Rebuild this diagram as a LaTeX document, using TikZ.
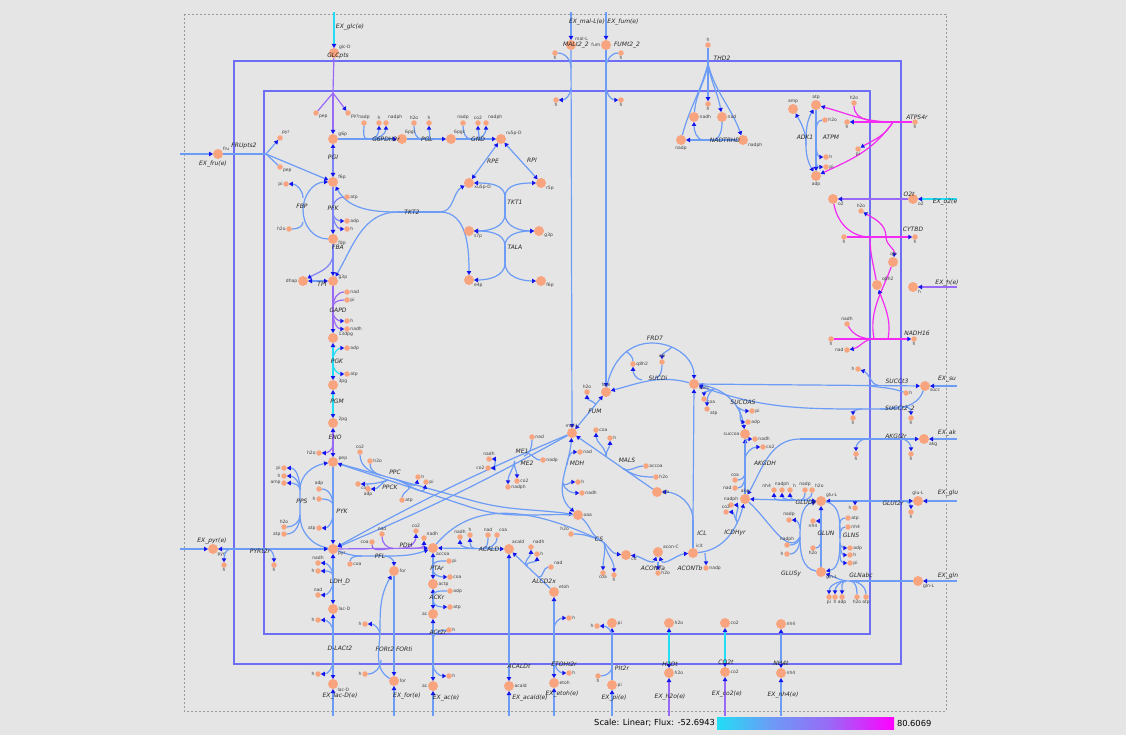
\documentclass[tikz,border=0pt]{standalone}
\usepackage{fontspec}
\setmainfont{DejaVu Sans}
\usetikzlibrary{arrows.meta,calc}
\definecolor{bggrey}{HTML}{E5E5E5}
\definecolor{boxgrey}{HTML}{9A9A9A}
\definecolor{membr}{HTML}{6E6EF4}
\definecolor{fcyan}{HTML}{22DDF5}
\definecolor{fblue}{HTML}{6C9CF6}
\definecolor{fviol}{HTML}{7C84F6}
\definecolor{fpurp}{HTML}{9A68F6}
\definecolor{fmag}{HTML}{F22AF2}
\definecolor{metfill}{HTML}{F8A47F}
\definecolor{tipblue}{HTML}{1414EC}
\pgfdeclarelayer{bg}
\pgfdeclarelayer{lines}
\pgfsetlayers{bg,lines,main}

\begin{document}
\begin{tikzpicture}[x=1pt,y=-1pt,
  every node/.style={inner sep=0pt,outer sep=0pt},
  met/.style={circle,fill=metfill,minimum size=10pt},
  cof/.style={circle,fill=metfill,minimum size=5.5pt},
  mlab/.style={font=\fontsize{4.5}{5}\selectfont,text=black!75,inner sep=0.7pt},
  rlab/.style={font=\fontsize{6}{7}\selectfont\itshape,text=black!85},
  xlab/.style={font=\fontsize{8.3}{10}\selectfont,text=black},
  rxn/.style={line width=1.2pt},
  rb/.style={rxn,draw=fblue},
  rv/.style={rxn,draw=fviol},
  rp/.style={rxn,draw=fpurp},
  rc/.style={rxn,draw=fcyan},
  rm/.style={rxn,draw=fmag},
  onearr/.style={-{Triangle[length=4pt,width=4.4pt,color=tipblue]}},
  twoarr/.style={{Triangle[length=4pt,width=4.4pt,color=tipblue]}-{Triangle[length=4pt,width=4.4pt,color=tipblue]}},
  membrane/.style={draw=membr,line width=2pt}
]
\useasboundingbox (0,0) rectangle (1126,735);

% canvas, cell boundary
\begin{pgfonlayer}{bg}
  \fill[bggrey] (0,0) rectangle (1126,735);
  \draw[boxgrey,line width=0.9pt,dash pattern=on 2pt off 2pt] (184,14) rectangle (946,711);
  \draw[membrane] (234,61) rectangle (901,664);
  \draw[membrane] (264,91) rectangle (870,634);
\end{pgfonlayer}

% main metabolites
\foreach \n/\x/\y/\t/\a in {
  glce/334/53/glc-D/30, frue/218/154/fru/30, g6p/333/139/g6p/20, f6p/333/182/f6p/20,
  fdp/333/239/fdp/-20, dhap/303/281/dhap/180, g3p/333/281/g3p/10, dpg/333/338/13dpg/10,
  pg3/333/385/3pg/10, pg2/333/423/2pg/10, pep/333/462/pep/10, pyr/333/549/pyr/-30,
  pyre/213/549/pyr/-40, lacD/333/609/lac-D/0, lacDe/333/684/lac-D/-40, form/394/571/for/0,
  fore/394/681/for/0, accoa/433/548/accoa/-60, actp/433/584/actp/0, ac/433/614/ac/180,
  ace/433/686/ac/180, acald/509/549/acald/60, acalde/509/686/acald/0, etoh/554/592/etoh/30,
  etohe/554/683/etoh/0, pgl6/402/139/6pgl/60, pgc6/451/139/6pgc/60, ru5p/501/139/ru5p-D/30,
  xu5p/469/183/xu5p-D/-20, r5p/541/183/r5p/-30, s7p/469/231/s7p/-30, gtp/539/231/g3p/-20,
  e4p/469/280/e4p/-30, ftp/541/281/f6p/-20, oaa/578/515/oaa/0, cit/626/555/cit/-20,
  aconC/658/552/acon-C/30, icit/693/553/icit/60, akg/745/499/akg/90, succoa/745/434/succoa/180,
  succ/694/384/succ/-30, fum/606/392/fum/90, malL/572/433/mal-L/90, glx/657/492/glx/0,
  gluL/821/501/glu-L/30, glnL/821/572/gln-L/-30, glue/918/501/glu-L/90, glne/918/581/gln-L/-30,
  akge/924/439/akg/-30, succe/925/386/succ/-30, malLe/571/45/mal-L/45, fume/606/45/fum/180,
  nadh/694/117/nadh/0, nad/722/117/nad/0, nadp/681/140/nadp/-90, nadph/743/140/nadph/-30,
  amp/793/109/amp/90, atp/816/105/atp/90, adp/816/176/adp/-90, o2/833/199/o2/-30,
  o2e/913/199/o2/-30, q8/893/262/q8/90, q8h2/877/285/q8h2/30, he/913/287/h/-30,
  h2oC/669/623/h2o/0, piC/612/623/pi/0, co2C/725/623/co2/0, nh4C/781/624/nh4/0,
  h2oe/669/673/h2o/0, pie/612/685/pi/0, co2e/725/672/co2/0, nh4e/781/673/nh4/0}
  \node[met,label={[mlab]\a:\t}] (\n) at (\x,\y) {};

% cofactors
\foreach \n/\x/\y/\t/\a in {
  gpep/316/113/pep/-30, gpyr/348/113/pyr/-30, fpyr/280/138/pyr/60, fpep/280/167/pep/-30,
  fbppi/286/184/pi/180, fbph2o/289/229/h2o/180, pfkatp/347/197/atp/0, pfkadp/347/221/adp/0,
  pfkh/347/229/h/0, gapnad/347/292/nad/0, gappi/347/300/pi/0, gaph/347/321/h/0,
  gapnadh/347/329/nadh/0, pgkadp/347/348/adp/0, pgkatp/347/374/atp/0, enoh2o/319/453/h2o/180,
  pykadp/319/489/adp/90, pykh/319/499/h/180, pykatp/319/528/atp/180,
  ppspi/284/468/pi/180, ppsh/284/476/h/180, ppsamp/284/483/amp/180, ppsh2o/284/527/h2o/90,
  ppsatp/284/534/atp/180, ppcco2/360/452/co2/90, ppch2o/370/461/h2o/0, ppch/418/477/h/0,
  ppcpi/426/482/pi/0, ppckco2/358/484/co2/-30, ppckadp/368/489/adp/-90, ppckatp/402/500/atp/0,
  pdhnad/382/534/nad/90, pdhcoa/372/542/coa/180, pdhco2/416/531/co2/90, pdhnadh/424/538/nadh/45,
  pflcoa/350/564/coa/0, ldhnadh/318/563/nadh/90, ldhh/318/571/h/180, ldhnad/318/595/nad/90,
  dlach1/318/620/h/180, dlach2/318/674/h/180, pyrh1/224/565/h/-90, pyrh2/274/565/h/-90,
  forh1/365/624/h/180, forh2/365/674/h/180, ptapi/449/561/pi/0, ptacoa/450/577/coa/0,
  ackadp/450/591/adp/0, ackatp/450/607/atp/0, ach1/449/630/h/0, ach2/449/676/h/0,
  acaldnadh/460/537/nadh/90, acaldh/470/535/h/90, acaldnad/488/535/nad/90, acaldcoa/497/535/coa/60,
  alcnadh/531/547/nadh/60, alch/537/554/h/0, alcnad/551/567/nad/30,
  etohh1/569/618/h/0, etohh2/569/673/h/0, pih1/597/626/h/180, pih2/598/676/h/-90,
  g6pnadp/364/123/nadp/90, g6ph/379/123/h/90, g6pnadph/386/123/nadph/60, pglh2o/414/123/h2o/90,
  pglh/429/123/h/90, gndnadp/463/123/nadp/90, gndco2/478/123/co2/90, gndnadph/486/123/nadph/60,
  csh2o/571/534/h2o/120, cscoa/603/573/coa/-90, csh/614/575/h/-90, aconh2o/658/573/h2o/0,
  icdnadp/706/568/nadp/0, icdnadph/731/505/nadph/90, icdco2/726/512/co2/90,
  akgcoa/735/480/coa/90, akgnad/735/488/nad/180, akgnadh/755/439/nadh/0, akgco2/763/447/co2/0,
  sucpi/752/411/pi/0, sucadp/748/422/adp/0, succoa2/704/399/coa/-30, sucatp/707/409/atp/-30,
  sdhq8/662/362/q8/90, sdhq8h2/633/364/q8h2/0, fumh2o/587/392/h2o/90,
  malscoa/596/430/coa/0, malsh/610/438/h/0, malsaccoa/646/466/accoa/0, malsh2o/656/477/h2o/0,
  mdhnad/580/452/nad/0, mdhh/578/482/h/0, mdhnadh/582/493/nadh/0,
  me1nad/532/437/nad/0, me2nadp/543/460/nadp/0, menadh/489/459/nadh/90, meco2/488/468/co2/180,
  me2co2/517/481/co2/0, me2nadph/508/487/nadph/0,
  malth1/555/53/h/-90, malth2/556/100/h/-90, fumth1/621/53/h/-90, fumth2/621/100/h/-90,
  sc3h1/858/369/h/180, sc3h2/906/393/h/0, sc2h1/853/418/h/-90, sc2h2/911/418/h/-90,
  akth1/856/454/h/-90, akth2/911/454/h/-90,
  gdnh4/774/490/nh4/150, gdnadph/782/490/nadph/90, gdh/790/490/h/30, gdnadp/805/490/nadp/90,
  gdh2o/812/490/h2o/30, gluth1/855/508/h/180, gluth2/911/512/h/-90,
  gsnadp/789/520/nadp/90, gsnadph/787/545/nadph/90, gsh/787/554/h/180,
  gnnh4/813/521/nh4/-90, gnh2o/813/548/h2o/-90,
  glnsatp/848/518/atp/0, glnsnh4/848/527/nh4/0, glnsadp/850/548/adp/0, glnsh/850/555/h/0,
  glnspi/850/563/pi/0, gabpi/829/597/pi/-90, gabh/835/597/h/-90, gabadp/842/597/adp/-90,
  gabh2o/857/597/h2o/-90, gabatp/866/597/atp/-90,
  thdh1/708/45/h/90, thdh2/708/104/h/-90, atpmh2o/825/120/h2o/0, atpmh/826/157/h/0,
  atpmpi/826/167/pi/0, atpsh2o/854/103/h2o/90, atpsh/847/122/h/-90, atpspi/858/149/pi/-90,
  hats/915/122/h/-90, cyh2o/861/211/h2o/90, cyh/844/237/h/-90, cyhe/915/237/h/-90,
  nhnadh/847/324/nadh/90, nhh/831/339/h/-90, nhhe/914/339/h/-90, nhnad/847/350/nad/180}
  \node[cof,label={[mlab]\a:\t}] (\n) at (\x,\y) {};

% free ends and branch points
\foreach \n/\x/\y in {
  inGlc/334/12, inFru/180/154, inPyr/180/549, inMal/571/12, inFum/606/12,
  inO2/957/199, inH/957/287, inSucc/957/386, inAkg/957/439, inGlu/957/501, inGln/957/581,
  outLac/333/716, outFor/394/716, outAc/433/716, outAcald/509/716, outEtoh/554/716,
  outPi/612/716, outH2o/669/716, outCo2/725/716, outNh4/781/716,
  glcJ/333/93, fruJ/266/154, fbpJ/303/210, fbaJ/333/256, tk2a/398/212, tk2b/440/212,
  tk1a/505/197, tk1b/505/214, tala/505/246, talb/505/263, ppsA/300/515, ppsB/300/490,
  ppcM/470/500, ppckM/470/507, pflA/362/556, pflB/385/556, forJ/380/630, csJ/600/540,
  icdJ/737/522, iclJ/693/520, sucJ1/737/407, sucJ2/714/389, sdhJ1/655/378, sdhJ2/642/380,
  frdA/652/343, frdB/626/351, frdC/672/347, mdhJ1/567/465, mdhJ2/563/483,
  sc2A/880/409, sc2J1/862/409, aktA/800/439, gsJ/800/537, gsnA/840/538, gsnB/840/543,
  gabA/850/581, gabB/846/581, thdJ/708/64, adkJ/806/145, atsJ/893/122,
  cyJ/870/237, cyJ2/886/237, nhJ/874/339, nhJ2/888/339}
  \coordinate (\n) at (\x,\y);

\begin{pgfonlayer}{lines}
% glycolysis
\draw[rc,onearr] (inGlc) -- (glce);
\draw[rp] (glce) -- (glcJ);
\draw[rp,onearr] (glcJ) -- (g6p);
\draw[rp] (gpep) -- (glcJ);
\draw[rp,onearr] (glcJ) -- (gpyr);
\draw[rb,onearr] (inFru) -- (frue);
\draw[rb] (frue) -- (fruJ);
\draw[rb,onearr] (fruJ) -- (f6p);
\draw[rb] (fpep) -- (fruJ);
\draw[rb,onearr] (fruJ) -- (fpyr);
\draw[rv,twoarr] (g6p) -- (f6p);
\draw[rv,onearr] (f6p) -- (fdp);
\draw[rv] (pfkatp) to[out=180,in=90] ($(f6p)!.45!(fdp)$);
\foreach \c in {pfkadp,pfkh} \draw[rv,onearr] ($(f6p)!.55!(fdp)$) to[out=-90,in=180] (\c);
\draw[rb] (fdp) to[out=180,in=-90] (fbpJ);
\draw[rb,onearr] (fbpJ) to[out=90,in=180] (f6p);
\draw[rb] (fbph2o) to[out=0,in=-90] ($(fbpJ)+(0,12)$);
\draw[rb,onearr] ($(fbpJ)+(0,-12)$) to[out=90,in=0] (fbppi);
\draw[rv] (fdp) -- (fbaJ);
\draw[rv,onearr] (fbaJ) -- (g3p);
\draw[rv,onearr] (fbaJ) to[out=-100,in=30] (dhap);
\draw[rb,twoarr] (dhap) -- (g3p);
\draw[rp,onearr] (g3p) -- (dpg);
\foreach \c in {gapnad,gappi} \draw[rp] (\c) to[out=180,in=90] ($(g3p)!.45!(dpg)$);
\foreach \c in {gaph,gapnadh} \draw[rp,onearr] ($(g3p)!.55!(dpg)$) to[out=-90,in=180] (\c);
\draw[rc,twoarr] (dpg) -- (pg3);
\draw[rc,onearr] ($(dpg)!.45!(pg3)$) to[out=90,in=180] (pgkadp);
\draw[rc,onearr] ($(dpg)!.55!(pg3)$) to[out=-90,in=180] (pgkatp);
\draw[rc,twoarr] (pg3) -- (pg2);
\draw[rp,twoarr] (pg2) -- (pep);
\draw[rp,onearr] ($(pg2)!.55!(pep)$) to[out=-90,in=0] (enoh2o);
\draw[rb,onearr] (pep) -- (pyr);
\foreach \c in {pykadp,pykh} \draw[rb] (\c) to[out=0,in=90] ($(pep)!.5!(pyr)$);
\draw[rb,onearr] ($(pep)!.6!(pyr)$) to[out=-90,in=0] (pykatp);
\draw[rb] (pyr) to[out=170,in=-90] (ppsA) -- (ppsB);
\draw[rb,onearr] (ppsB) to[out=90,in=190] (pep);
\foreach \c in {ppsh2o,ppsatp} \draw[rb] (\c) to[out=0,in=-90] (ppsA);
\foreach \c in {ppspi,ppsh,ppsamp} \draw[rb,onearr] (ppsB) to[out=90,in=0] (\c);
% PPC, PPCK
\draw[rb] (pep) -- (ppcM);
\draw[rb,onearr] (ppcM) to[out=-16,in=172] (oaa);
\foreach \c in {ppcco2,ppch2o} \draw[rb] (\c) to[out=-90,in=164] ($(pep)!.35!(ppcM)$);
\foreach \c in {ppch,ppcpi} \draw[rb,onearr] ($(pep)!.45!(ppcM)$) to[out=-16,in=-100] (\c);
\draw[rb] (oaa) to[out=178,in=-18] (ppckM);
\draw[rb,onearr] (ppckM) -- (pep);
\draw[rb] (ppckatp) to[out=90,in=-18] ($(ppckM)!.45!(pep)$);
\foreach \c in {ppckco2,ppckadp} \draw[rb,onearr] ($(ppckM)!.6!(pep)$) to[out=200,in=0] (\c);
% pyruvate branch
\draw[rp,onearr] (pyr) -- (accoa);
\foreach \c in {pdhnad,pdhcoa} \draw[rp] (\c) to[out=-90,in=180] ($(pyr)!.6!(accoa)$);
\foreach \c in {pdhco2,pdhnadh} \draw[rp,onearr] ($(pyr)!.7!(accoa)$) to[out=0,in=-90] (\c);
\draw[rb] (pyr) to[out=-20,in=180] (pflA) -- (pflB);
\draw[rb,onearr] (pflB) to[out=0,in=-160] (accoa);
\draw[rb,onearr] (pflB) to[out=0,in=90] (form);
\draw[rb] (pflcoa) to[out=90,in=180] (pflA);
\draw[rb,twoarr] (pyr) -- (lacD);
\foreach \c in {ldhnadh,ldhh} \draw[rb,onearr] ($(pyr)!.45!(lacD)$) to[out=90,in=0] (\c);
\draw[rb,onearr] ($(pyr)!.55!(lacD)$) to[out=-90,in=0] (ldhnad);
\draw[rb,twoarr] (lacD) -- (lacDe);
\draw[rb,onearr] ($(lacD)!.3!(lacDe)$) to[out=90,in=0] (dlach1);
\draw[rb,onearr] ($(lacD)!.7!(lacDe)$) to[out=-90,in=0] (dlach2);
\draw[rb,onearr] (outLac) -- (lacDe);
\draw[rb,twoarr] (pyre) -- (pyr);
\draw[rb,onearr] ($(pyre)!.15!(pyr)$) to[out=180,in=90] (pyrh1);
\draw[rb,onearr] ($(pyre)!.45!(pyr)$) to[out=0,in=90] (pyrh2);
\draw[rb,onearr] (inPyr) -- (pyre);
\draw[rb,onearr] (form) -- (fore);
\draw[rb] (fore) to[out=150,in=-90] (forJ);
\draw[rb,onearr] (forJ) to[out=90,in=-120] (form);
\draw[rb] (forh2) to[out=0,in=-90] ($(forJ)+(1,30)$);
\draw[rb,onearr] ($(forJ)+(0,5)$) to[out=90,in=0] (forh1);
\draw[rb,onearr] (outFor) -- (fore);
\draw[rb,twoarr] (accoa) -- (actp);
\draw[rb] (ptapi) to[out=180,in=90] ($(accoa)!.5!(actp)$);
\draw[rb,onearr] ($(accoa)!.6!(actp)$) to[out=-90,in=180] (ptacoa);
\draw[rb,twoarr] (actp) -- (ac);
\draw[rb] (ackadp) to[out=180,in=90] ($(actp)!.4!(ac)$);
\draw[rb,onearr] ($(actp)!.55!(ac)$) to[out=-90,in=180] (ackatp);
\draw[rb,twoarr] (ac) -- (ace);
\draw[rb] (ach1) to[out=180,in=90] ($(ac)!.35!(ace)$);
\draw[rb,onearr] ($(ac)!.7!(ace)$) to[out=-90,in=180] (ach2);
\draw[rb,onearr] (outAc) -- (ace);
\draw[rb,twoarr] (acald) -- (accoa);
\foreach \c in {acaldnad,acaldcoa} \draw[rb] (\c) to[out=-90,in=0] ($(acald)!.35!(accoa)$);
\foreach \c in {acaldnadh,acaldh} \draw[rb,onearr] ($(acald)!.45!(accoa)$) to[out=180,in=-90] (\c);
\draw[rb,twoarr] (acald) -- (acalde);
\draw[rb,onearr] (outAcald) -- (acalde);
\draw[rb,onearr] (etoh) -- (acald);
\draw[rb] (alcnad) to[out=180,in=-20] ($(etoh)!.35!(acald)$);
\foreach \c in {alcnadh,alch} \draw[rb,onearr] ($(etoh)!.6!(acald)$) to[out=136,in=-90] (\c);
\draw[rb,twoarr] (etoh) -- (etohe);
\draw[rb,onearr] ($(etoh)!.4!(etohe)$) to[out=90,in=180] (etohh1);
\draw[rb,onearr] ($(etoh)!.75!(etohe)$) to[out=-90,in=180] (etohh2);
\draw[rb,onearr] (outEtoh) -- (etohe);
% small transporters
\draw[rb,onearr] (pie) -- (piC);
\draw[rb] (pih2) to[out=0,in=-90] ($(pie)!.3!(piC)$);
\draw[rb,onearr] ($(pie)!.8!(piC)$) to[out=90,in=0] (pih1);
\draw[rb,onearr] (outPi) -- (pie);
\draw[rc,twoarr] (h2oe) -- (h2oC);
\draw[rp,onearr] (outH2o) -- (h2oe);
\draw[rc,twoarr] (co2e) -- (co2C);
\draw[rp,onearr] (outCo2) -- (co2e);
\draw[rb,twoarr] (nh4e) -- (nh4C);
\draw[rb,onearr] (outNh4) -- (nh4e);
% pentose phosphate
\draw[rb,onearr] (g6p) -- (pgl6);
\draw[rb] (g6pnadp) to[out=-90,in=180] ($(g6p)!.5!(pgl6)$);
\foreach \c in {g6ph,g6pnadph} \draw[rb,onearr] ($(g6p)!.55!(pgl6)$) to[out=0,in=-90] (\c);
\draw[rb,onearr] (pgl6) -- (pgc6);
\draw[rb] (pglh2o) to[out=-90,in=180] ($(pgl6)!.4!(pgc6)$);
\draw[rb,onearr] ($(pgl6)!.5!(pgc6)$) to[out=0,in=-90] (pglh);
\draw[rb,onearr] (pgc6) -- (ru5p);
\draw[rb] (gndnadp) to[out=-90,in=180] ($(pgc6)!.4!(ru5p)$);
\foreach \c in {gndco2,gndnadph} \draw[rb,onearr] ($(pgc6)!.5!(ru5p)$) to[out=0,in=-90] (\c);
\draw[rb,twoarr] (ru5p) -- (xu5p);
\draw[rb,twoarr] (r5p) -- (ru5p);
\draw[rb,onearr] (tk1a) to[out=90,in=0] (xu5p);
\draw[rb,onearr] (tk1a) to[out=90,in=180] (r5p);
\draw[rb] (tk1a) -- (tk1b);
\draw[rb,onearr] (tk1b) to[out=-90,in=0] (s7p);
\draw[rb,onearr] (tk1b) to[out=-90,in=180] (gtp);
\draw[rb,onearr] (tala) to[out=90,in=0] (s7p);
\draw[rb,onearr] (tala) to[out=90,in=180] (gtp);
\draw[rb] (tala) -- (talb);
\draw[rb,onearr] (talb) to[out=-90,in=0] (e4p);
\draw[rb,onearr] (talb) to[out=-90,in=180] (ftp);
\draw[rb] (tk2a) -- (tk2b);
\draw[rb,onearr] (tk2a) to[out=180,in=-60] (f6p);
\draw[rb,onearr] (tk2a) to[out=180,in=60] (g3p);
\draw[rb,onearr] (tk2b) to[out=0,in=-150] (xu5p);
\draw[rb,onearr] (tk2b) to[out=0,in=90] (e4p);
% TCA cycle
\draw[rb] (oaa) to[out=-40,in=150] (csJ);
\draw[rb,onearr] (csJ) to[out=-30,in=175] (cit);
\draw[rb] (accoa) to[out=50,in=155] (csJ);
\draw[rb] (csh2o) to[out=0,in=160] (csJ);
\foreach \c in {cscoa,csh} \draw[rb,onearr] ($(csJ)+(4,2)$) to[out=-80,in=90] (\c);
\draw[rb,twoarr] (cit) to[out=-5,in=-110] (aconC);
\draw[rb,twoarr] (aconC) to[out=-70,in=185] (icit);
\draw[rb,onearr] ($(aconC)+(0,10)$) -- (aconh2o);
\draw[rb,onearr] (icit) to[out=5,in=-105] (akg);
\draw[rb,onearr] ($(icit)+(12,0)$) to[out=-90,in=90] (icdnadp);
\foreach \c in {icdnadph,icdco2} \draw[rb,onearr] (icdJ) to[out=120,in=0] (\c);
\draw[rb,onearr] (akg) -- (succoa);
\foreach \c in {akgcoa,akgnad} \draw[rb] (\c) to[out=0,in=-90] ($(akg)!.4!(succoa)$);
\foreach \c in {akgnadh,akgco2} \draw[rb,onearr] ($(akg)!.6!(succoa)$) to[out=90,in=180] (\c);
\draw[rb,twoarr] (succoa) .. controls (740,400) and (720,388) .. (succ);
\foreach \c in {sucpi,sucadp} \draw[rb,onearr] (sucJ1) to[out=-30,in=180] (\c);
\foreach \c in {succoa2,sucatp} \draw[rb,onearr] (sucJ2) to[out=-150,in=90] (\c);
\draw[rb,onearr] (succ) to[out=165,in=15] (fum);
\draw[rb] (sdhq8) to[out=-90,in=5] (sdhJ1);
\draw[rb,onearr] (sdhJ2) to[out=175,in=-90] (sdhq8h2);
\draw[rb] (fum) to[out=80,in=180] (frdA);
\draw[rb,onearr] (frdA) to[out=0,in=90] (succ);
\draw[rb] (sdhq8h2) to[out=90,in=-45] (frdB);
\draw[rb,onearr] (frdC) to[out=-135,in=90] (sdhq8);
\draw[rb,twoarr] (fum) -- (malL);
\draw[rb,onearr] ($(fum)!.3!(malL)$) to[out=130,in=-90] (fumh2o);
\draw[rb,twoarr] (malL) to[out=-95,in=140] (oaa);
\draw[rb,onearr] (mdhJ1) to[out=90,in=180] (mdhnad);
\foreach \c in {mdhh,mdhnadh} \draw[rb,onearr] (mdhJ2) to[out=-80,in=180] (\c);
\draw[rb,onearr] (glx) -- (malL);
\foreach \c in {malscoa,malsh} \draw[rb,onearr] ($(glx)!.6!(malL)$) to[out=90,in=-90] (\c);
\foreach \c in {malsaccoa,malsh2o} \draw[rb] (\c) to[out=180,in=-35] ($(glx)!.4!(malL)$);
\draw[rb] (icit) -- (iclJ);
\draw[rb,onearr] (iclJ) -- (succ);
\draw[rb,onearr] (iclJ) to[out=90,in=0] (glx);
% malic enzymes
\draw[rb,onearr] (malL) to[bend right=3] (pyr);
\draw[rb,onearr] (malL) to[bend left=3] (pyr);
\draw[rb] (me1nad) to[out=-90,in=26] ($(malL)!.2!(pyr)$);
\foreach \c in {menadh,meco2} \draw[rb,onearr] ($(malL)!.32!(pyr)$) to[out=120,in=0] (\c);
\draw[rb] (me2nadp) to[out=180,in=-20] ($(malL)!.18!(pyr)$);
\foreach \c in {me2co2,me2nadph} \draw[rb,onearr] ($(malL)!.24!(pyr)$) to[out=-100,in=90] (\c);
% C4 transport
\draw[rb,onearr] (inFum) -- (fume);
\draw[rb,onearr] (fume) -- (fum);
\draw[rb] (fumth1) to[out=180,in=90] ($(fume)!.065!(fum)$);
\draw[rb,onearr] ($(fume)!.12!(fum)$) to[out=-90,in=180] (fumth2);
\draw[rb,onearr] (inMal) -- (malLe);
\draw[rb,onearr] (malLe) -- (malL);
\draw[rb] (malth1) to[out=0,in=90] ($(malLe)!.06!(malL)$);
\draw[rb,onearr] ($(malLe)!.11!(malL)$) to[out=-90,in=0] (malth2);
\draw[rb,onearr] (succ) -- (succe);
\draw[rb,onearr] ($(succ)!.8!(succe)$) to[out=170,in=-20] (sc3h1);
\draw[rb] (sc3h2) to[out=160,in=-10] ($(succ)!.75!(succe)$);
\draw[rb] (succe) to[out=-110,in=0] (sc2A);
\draw[rb,onearr] (sc2A) to[out=180,in=-20] (succ);
\draw[rb,onearr] (sc2J1) to[out=180,in=90] (sc2h1);
\draw[rb,onearr] (sc2A) to[out=0,in=90] (sc2h2);
\draw[rb,onearr] (inSucc) -- (succe);
\draw[rb,onearr] (aktA) -- (akge);
\draw[rb,onearr] (aktA) to[out=180,in=60] (akg);
\draw[rb,onearr] ($(aktA)!.53!(akge)$) to[out=180,in=90] (akth1);
\draw[rb,onearr] ($(aktA)!.82!(akge)$) to[out=0,in=90] (akth2);
\draw[rb,onearr] (inAkg) -- (akge);
% glutamate and glutamine
\draw[rb,twoarr] (gluL) -- (akg);
\foreach \c in {gdnh4,gdnadph,gdh} \draw[rb,onearr] ($(gluL)!.33!(akg)$) to[out=180,in=-90] (\c);
\foreach \c in {gdnadp,gdh2o} \draw[rb] (\c) to[out=-90,in=0] ($(gluL)!.28!(akg)$);
\draw[rb,twoarr] (glue) -- (gluL);
\draw[rb,onearr] ($(gluL)!.4!(glue)$) to[out=180,in=90] (gluth1);
\draw[rb,onearr] ($(gluL)!.85!(glue)$) to[out=0,in=90] (gluth2);
\draw[rb,onearr] (inGlu) -- (glue);
\draw[rb] (glnL) to[out=170,in=-90] (gsJ);
\draw[rb,onearr] (gsJ) to[out=90,in=-170] (gluL);
\draw[rb] (akg) to[out=-40,in=-120] (gsJ);
\draw[rb,onearr] ($(gsJ)+(0,-8)$) to[out=90,in=0] (gsnadp);
\foreach \c in {gsnadph,gsh} \draw[rb] (\c) to[out=0,in=-90] (gsJ);
\draw[rb,onearr] (glnL) -- (gluL);
\draw[rb] (gnh2o) to[out=0,in=-90] ($(glnL)!.45!(gluL)$);
\draw[rb,onearr] ($(glnL)!.55!(gluL)$) to[out=90,in=0] (gnnh4);
\draw[rb] (gluL) to[out=-10,in=90] (gsnA);
\draw[rb,onearr] (gsnA) to[out=-90,in=10] (glnL);
\foreach \c in {glnsatp,glnsnh4} \draw[rb] (\c) to[out=180,in=90] (gsnA);
\foreach \c in {glnsadp,glnsh,glnspi} \draw[rb,onearr] (gsnB) to[out=-90,in=180] (\c);
\draw[rb] (glne) -- (gabA);
\draw[rb,onearr] (gabA) to[out=180,in=-20] (glnL);
\foreach \c in {gabh2o,gabatp} \draw[rb] (\c) to[out=90,in=0] (gabA);
\foreach \c in {gabpi,gabh,gabadp} \draw[rb,onearr] (gabB) to[out=180,in=90] (\c);
\draw[rb,onearr] (inGln) -- (glne);
% energy metabolism
\draw[rb,onearr] (thdh1) -- (thdh2);
\draw[rb] (nadp) to[out=75,in=-105] (thdJ);
\draw[rb] (nadh) to[out=85,in=-100] (thdJ);
\draw[rb,onearr] (thdJ) to[out=-80,in=100] (nad);
\draw[rb,onearr] (thdJ) to[out=-75,in=110] (nadph);
\draw[rb,onearr] (nadph) -- (nadp);
\draw[rb] (nad) to[out=-90,in=0] ($(nadph)!.5!(nadp)$);
\draw[rb,onearr] ($(nadph)!.63!(nadp)$) to[out=180,in=-90] (nadh);
\draw[rb,onearr] (adkJ) to[out=90,in=-60] (amp);
\draw[rb,onearr] (adkJ) to[out=90,in=-120] (atp);
\draw[rb,onearr] (adkJ) to[out=-90,in=120] (adp);
\draw[rb,onearr] (atp) -- (adp);
\draw[rb] (atpmh2o) to[out=180,in=90] ($(atp)!.4!(adp)$);
\foreach \c in {atpmh,atpmpi} \draw[rb,onearr] ($(atp)!.55!(adp)$) to[out=-90,in=180] (\c);
\draw[rm,onearr] (hats) -- (atpsh);
\draw[rm,onearr] (atsJ) to[out=180,in=-15] (atp);
\draw[rm] (atpsh2o) to[out=-90,in=180] (atsJ);
\draw[rm,onearr] (atsJ) to[out=-120,in=30] (atpspi);
\draw[rm,onearr] (atsJ) to[out=-125,in=25] (adp);
\draw[rp,onearr] (o2e) -- (o2);
\draw[rc,onearr] (inO2) -- (o2e);
\draw[rm,onearr] (cyh) -- (cyhe);
\draw[rm] (o2) to[out=-80,in=180] (cyJ);
\draw[rm,onearr] (cyJ2) to[out=90,in=-30] (cyh2o);
\draw[rm] (q8h2) to[out=100,in=-90] (cyJ);
\draw[rm,onearr] (cyJ2) to[out=-90,in=80] (q8);
\draw[rm,onearr] (nhh) -- (nhhe);
\draw[rm] (nhnadh) to[out=-60,in=180] (nhJ);
\draw[rm,onearr] (nhJ) to[out=180,in=10] (nhnad);
\draw[rm] (q8) to[out=-110,in=100] (nhJ);
\draw[rm,onearr] (nhJ2) to[out=80,in=-70] (q8h2);
\draw[rp,onearr] (inH) -- (he);
\end{pgfonlayer}

% reaction labels
\foreach \x/\y/\t [count=\i] in {
  350/27/EX\_glc(e), 338/56/GLCpts, 244/146/FRUpts2, 213/164/EX\_fru(e), 333/157/PGI,
  386/139/G6PDH2r, 427/139/PGL, 478/139/GND, 493/161/RPE, 532/160/RPI, 515/202/TKT1,
  515/247/TALA, 412/212/TKT2, 302/206/FBP, 333/208/PFK, 338/247/FBA, 322/284/TPI,
  338/310/GAPD, 337/361/PGK, 337/401/PGM, 335/437/ENO, 395/472/PPC, 390/487/PPCK,
  302/501/PPS, 342/511/PYK, 212/541/EX\_pyr(e), 260/551/PYRt2r, 406/545/PDH, 380/556/PFL,
  340/582/LDH\_D, 340/648/D-LACt2, 394/649/FORt2 FORti, 340/696/EX\_lac-D(e),
  407/696/EX\_for(e), 437/568/PTAr, 437/597/ACKr, 438/632/ACt2r, 446/698/EX\_ac(e),
  489/549/ACALD, 519/666/ACALDt, 530/698/EX\_acald(e), 544/581/ALCD2x, 564/664/ETOHt2r,
  562/694/EX\_etoh(e), 622/668/PIt2r, 614/698/EX\_pi(e), 670/664/H2Ot, 670/697/EX\_h2o(e),
  726/662/CO2t, 727/694/EX\_co2(e), 781/663/NH4t, 783/695/EX\_nh4(e), 599/539/CS,
  653/568/ACONTa, 690/568/ACONTb, 702/533/ICL, 735/533/ICDHyr, 765/463/AKGDH,
  743/402/SUCOAS, 658/378/SUCDi, 655/338/FRD7, 595/411/FUM, 577/463/MDH, 627/460/MALS,
  522/451/ME1, 527/463/ME2, 576/45/MALt2\_2, 627/45/FUMt2\_2, 587/22/EX\_mal-L(e),
  623/22/EX\_fum(e), 722/58/THD2, 725/140/NADTRHD, 805/137/ADK1, 831/137/ATPM,
  917/117/ATPS4r, 909/194/O2t, 945/202/EX\_o2(e, 913/229/CYTBD, 947/283/EX\_h(e),
  917/333/NADH16, 897/381/SUCCt3, 947/379/EX\_su, 900/409/SUCCt2\_2, 896/436/AKGt2r,
  947/433/EX\_ak, 806/503/GLUDy, 893/503/GLUt2r, 948/493/EX\_glu, 826/533/GLUN,
  851/535/GLNS, 791/574/GLUSy, 861/575/GLNabc, 948/576/EX\_gln}
  \node[rlab] (rl\i) at (\x,\y) {\t};

% flux scale
\shade[left color=fcyan,right color=fblue] (717,717) rectangle (771,729);
\shade[left color=fblue,right color=fpurp] (770,717) rectangle (831,729);
\shade[left color=fpurp,right color=magenta] (830,717) rectangle (894,729);
\node[xlab,anchor=east] (scaleLo) at (715,723) {Scale: Linear; Flux: -52.6943};
\node[xlab,anchor=west] (scaleHi) at (897,723) {80.6069};
\end{tikzpicture}
\end{document}
